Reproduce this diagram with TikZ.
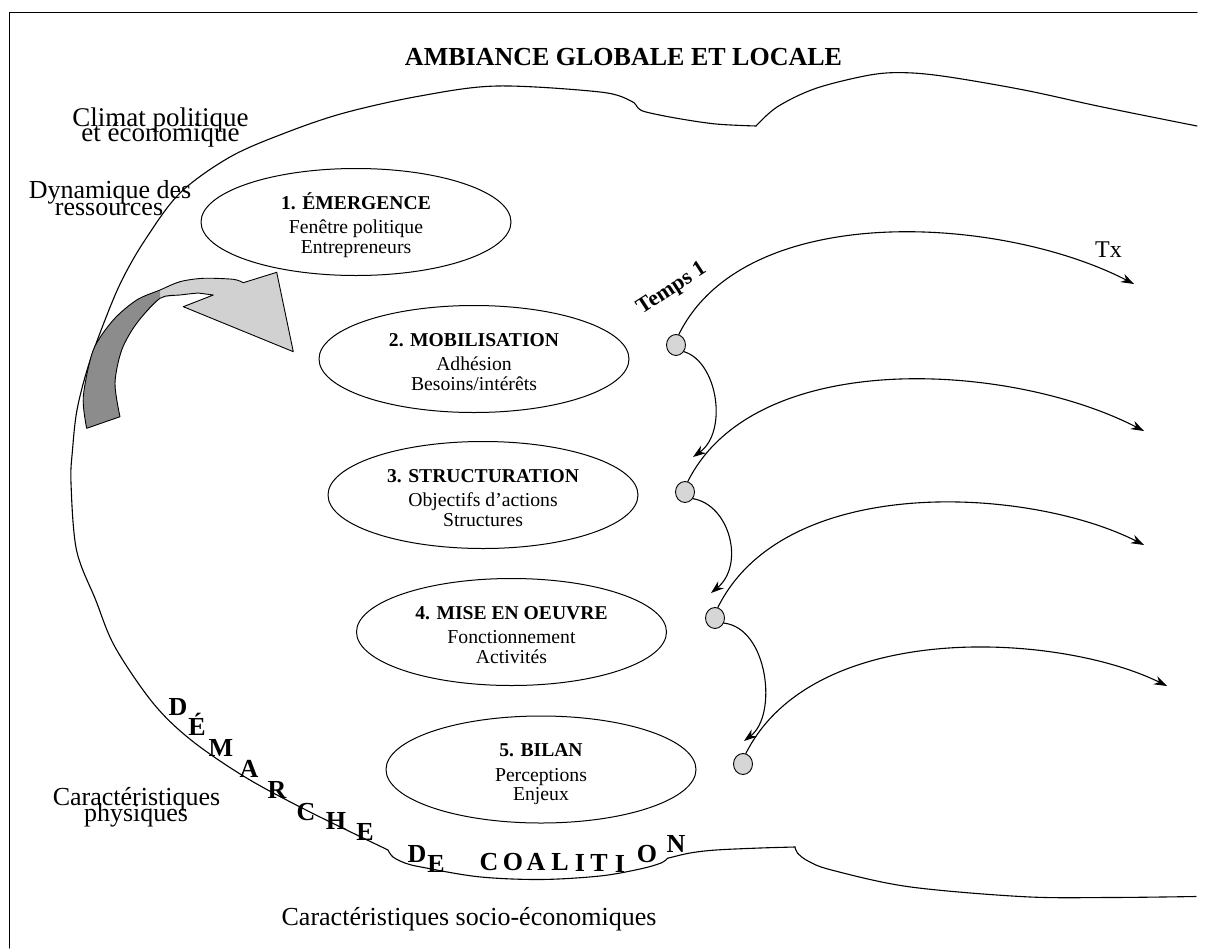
\documentclass[tikz,border=0pt]{standalone}
\usepackage{fontspec}
\setmainfont{Liberation Serif}
\usetikzlibrary{arrows.meta,shapes.geometric}
\definecolor{dotgray}{gray}{0.84}
\definecolor{darkband}{gray}{0.55}
\definecolor{lightband}{gray}{0.82}
\begin{document}
\begin{tikzpicture}[x=1pt,y=-1pt,
  line width=1.1pt, line cap=round, line join=round,
  stage/.style={draw, ellipse, minimum width=310pt, minimum height=107pt, inner sep=0pt, line width=1pt},
  stagehead/.style={anchor=base, inner sep=0pt, font=\fontsize{19.6}{20}\selectfont\bfseries},
  stageline/.style={anchor=base, inner sep=0pt, font=\fontsize{19.7}{20}\selectfont},
  sidelabel/.style={anchor=base, inner sep=0pt, font=\fontsize{26}{26}\selectfont},
  arcletter/.style={anchor=base, inner sep=0pt, font=\fontsize{26}{26}\selectfont\bfseries},
  timedot/.style={draw, ellipse, fill=dotgray, minimum width=19pt, minimum height=21pt, inner sep=0pt, line width=0.9pt},
  flow/.style={-{Stealth[length=13pt,width=9pt]}, line width=1.1pt},
  contour/.style={line width=1.1pt}
]
\useasboundingbox (0,0) rectangle (1205,948);
\fill[white] (0,0) rectangle (1205,948);

% frame (top and left edges)
\draw[line width=1pt] (9.5,948) -- (9.5,12) -- (1197,12);

% title
\node[anchor=base, inner sep=0pt, font=\fontsize{26}{26}\selectfont\bfseries] (title) at (623.5,65) {AMBIANCE GLOBALE ET LOCALE};

% outer contour of the coalition space
\draw[contour] plot[smooth, tension=0.55] coordinates {(1197,126) (1101,106.7) (1024,90) (947,76.7) (905,72.7) (870,75) (816,88.3) (777.5,106.7) (756,126)};
\draw[contour] plot[smooth, tension=0.55] coordinates {(756,126) (716,124) (677,118.3) (646,112) (638,108) (631,101) (600,92) (497,86) (420,96) (344,113) (285,133) (230,157) (180,193) (145,240) (122,280) (105,320) (88,367) (77,410) (72.5,450) (71,483) (76.5,550) (95.7,600) (115,647) (153,703) (191,740) (245,777) (306,810) (388,850)};
\draw[contour] plot[smooth, tension=0.55] coordinates {(388,850) (393,857) (405,863) (421,867) (478,876.7) (540,879.5) (600,876) (640,869) (661,863) (667.5,858.3)};
\draw[contour] plot[smooth, tension=0.55] coordinates {(667.5,858.3) (690,853) (716,850) (760,848) (795,847)};
\draw[contour] plot[smooth, tension=0.55] coordinates {(795,847) (797.5,853) (808,861) (831.5,870) (908.6,886.7) (1024,896.7) (1110,897.5) (1196,896.5)};

% surrounding factors
\node[sidelabel, font=\fontsize{27}{27}\selectfont] (clim1) at (160.5,126) {Climat politique};
\node[sidelabel, font=\fontsize{27}{27}\selectfont] (clim2) at (160.5,141.7) {et économique};
\node[sidelabel] (dyn1) at (110,198) {Dynamique des};
\node[sidelabel] (dyn2) at (109,215) {ressources};
\node[sidelabel] (phys1) at (136.5,805) {Caractéristiques};
\node[sidelabel] (phys2) at (136,821.7) {physiques};
\node[sidelabel] (socio) at (469,925) {Caractéristiques socio-économiques};

% curved feedback arrow
\fill[lightband] plot[smooth] coordinates {(160,290) (180,281.7) (203.3,278.3) (233.3,279.3) (243.3,282.7)} -- (276.7,272.3) -- (293.3,351.7) -- (183.3,306.7) -- (213.3,295) -- plot[smooth] coordinates {(198,293) (180,295) (160,298.3)} -- cycle;
\fill[darkband] plot[smooth] coordinates {(86.7,428.3) (83.3,396.7) (93.3,350) (113.3,320) (136.7,300) (160,290)} -- plot[smooth] coordinates {(160,298.3) (136.7,323.3) (121.7,350) (115,383.3) (120,416.7)} -- cycle;
\draw[line width=0.9pt] plot[smooth] coordinates {(86.7,428.3) (83.3,396.7) (93.3,350) (113.3,320) (136.7,300) (160,290) (180,281.7) (203.3,278.3) (233.3,279.3) (243.3,282.7)} -- (276.7,272.3) -- (293.3,351.7) -- (183.3,306.7) -- (213.3,295) -- plot[smooth] coordinates {(198,293) (180,295) (160,298.3) (136.7,323.3) (121.7,350) (115,383.3) (120,416.7)} -- cycle;

% stages of the coalition process
\node[stage] (s1) at (356,222) {};
\node[stagehead] (s1a) at (356,209) {1. ÉMERGENCE};
\node[stageline] (s1b) at (356,233.5) {Fenêtre politique};
\node[stageline] (s1c) at (356,253) {Entrepreneurs};

\node[stage] (s2) at (474,359) {};
\node[stagehead] (s2a) at (474,346) {2. MOBILISATION};
\node[stageline] (s2b) at (474,370.5) {Adhésion};
\node[stageline] (s2c) at (474,390) {Besoins/intérêts};

\node[stage] (s3) at (483,495) {};
\node[stagehead] (s3a) at (483,482) {3. STRUCTURATION};
\node[stageline] (s3b) at (483,506.5) {Objectifs d’actions};
\node[stageline] (s3c) at (483,526) {Structures};

\node[stage] (s4) at (511.5,632) {};
\node[stagehead] (s4a) at (511.5,619) {4. MISE EN OEUVRE};
\node[stageline] (s4b) at (511.5,643.5) {Fonctionnement};
\node[stageline] (s4c) at (511.5,663) {Activités};

\node[stage] (s5) at (541,769.5) {};
\node[stagehead] (s5a) at (541,756.5) {5. BILAN};
\node[stageline] (s5b) at (541,781) {Perceptions};
\node[stageline] (s5c) at (541,800.5) {Enjeux};

% lettering along the contour
\foreach \ch/\px/\py [count=\i] in {D/178/715, É/197/735, M/221/756, A/249/777, R/277/798, C/306/820, H/336/829, E/365/840, D/417/862, E/436/872, C/489/870, O/513/870, A/536/870, L/560/870, I/580/871, T/599/871, I/620/872, O/647/862, N/676/852}
  \node[arcletter] (arc\i) at (\px,\py) {\ch};

% time line
\node[rotate=33, inner sep=0pt, font=\fontsize{22}{22}\selectfont\bfseries] (temps) at (672,289) {Temps 1};
\node[anchor=base, inner sep=0pt, font=\fontsize{24}{24}\selectfont] (tx) at (1108.5,257) {Tx};

\node[timedot] (d1) at (676,345) {};
\node[timedot] (d2) at (685,492) {};
\node[timedot] (d3) at (715,618) {};
\node[timedot] (d4) at (743,764) {};

\coordinate (tip1) at (1134,284);
\coordinate (tip2) at (1144,431);
\coordinate (tip3) at (1144,545);
\coordinate (tip4) at (1167,686);
\coordinate (down1) at (693,457);
\coordinate (down2) at (711,593);
\coordinate (down3) at (744,741);

\draw[flow] (d1.75) .. controls (745,200) and (1000,215) .. (tip1);
\draw[flow] (d2.75) .. controls (755,347) and (1010,362) .. (tip2);
\draw[flow] (d3.75) .. controls (785,472) and (1030,487) .. (tip3);
\draw[flow] (d4.75) .. controls (814,618) and (1060,633) .. (tip4);

\draw[flow] (d1.-40) .. controls (718,362) and (728,432) .. (down1);
\draw[flow] (d2.-40) .. controls (730,505) and (745,565) .. (down2);
\draw[flow] (d3.-30) .. controls (768,628) and (778,715) .. (down3);
\end{tikzpicture}
\end{document}
